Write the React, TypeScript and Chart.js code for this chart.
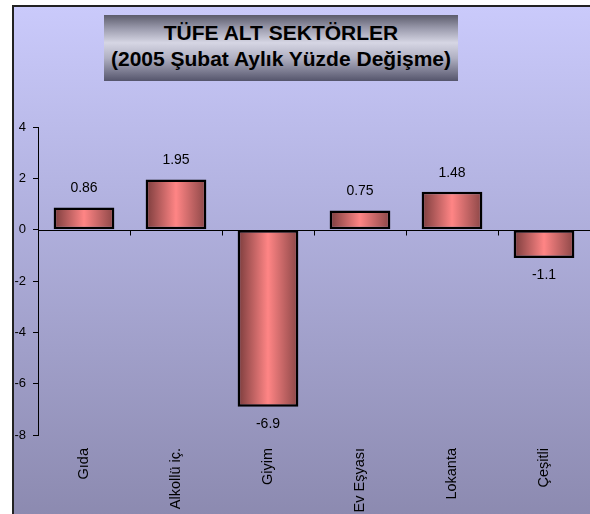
import React, { useEffect, useRef } from "react";
import { Chart, registerables } from "chart.js";

Chart.register(...registerables);

const categories = ["Gıda", "Alkollü iç.", "Giyim", "Ev Eşyası", "Lokanta", "Çeşitli"];
const values = [0.86, 1.95, -6.9, 0.75, 1.48, -1.1];
const valueLabels = ["0.86", "1.95", "-6.9", "0.75", "1.48", "-1.1"];
const yMin = -8;
const yMax = 4;
const yStep = 2;
const titleLines = ["TÜFE ALT SEKTÖRLER", "(2005 Şubat Aylık Yüzde Değişme)"];

const FONT = '"Liberation Sans", Arial, sans-serif';
const BAR_FRACTION = 0.66;

const zeroLinePlugin = {
  id: "zeroLine",
  beforeDatasetsDraw(chart: any) {
    const { ctx, chartArea, scales } = chart;
    const y0 = Math.round(scales.y.getPixelForValue(0)) + 0.5;
    ctx.save();
    ctx.strokeStyle = "#000";
    ctx.lineWidth = 1;
    ctx.beginPath();
    ctx.moveTo(chartArea.left, y0);
    ctx.lineTo(chartArea.right, y0);
    for (let i = 0; i < categories.length - 1; i++) {
      const bx = Math.round((scales.x.getPixelForValue(i) + scales.x.getPixelForValue(i + 1)) / 2) + 0.5;
      ctx.moveTo(bx, y0);
      ctx.lineTo(bx, y0 + 5);
    }
    ctx.stroke();
    ctx.restore();
  },
  afterDatasetsDraw(chart: any) {
    const { ctx } = chart;
    const meta = chart.getDatasetMeta(0);
    ctx.save();
    ctx.fillStyle = "#000";
    ctx.font = `14px ${FONT}`;
    ctx.textAlign = "center";
    ctx.textBaseline = "middle";
    meta.data.forEach((bar: any, i: number) => {
      const v = values[i];
      const ty = v >= 0 ? bar.y - 19 : bar.y + 17;
      ctx.fillText(valueLabels[i], bar.x, ty);
    });
    ctx.restore();
  },
};

export default function App() {
  const ref = useRef<HTMLCanvasElement>(null);

  useEffect(() => {
    if (!ref.current) return;
    const chart = new Chart(ref.current, {
      type: "bar",
      data: {
        labels: categories,
        datasets: [
          {
            data: values,
            backgroundColor: (c: any) => {
              const ch = c.chart;
              const xs = ch.scales && ch.scales.x;
              if (!xs || c.dataIndex === undefined || !xs.width) return "#ff8080";
              const cx = xs.getPixelForValue(c.dataIndex);
              const half = ((xs.width / categories.length) * BAR_FRACTION) / 2;
              const g = ch.ctx.createLinearGradient(cx - half, 0, cx + half, 0);
              g.addColorStop(0, "#7a3c3c");
              g.addColorStop(0.5, "#ff8585");
              g.addColorStop(1, "#8a4646");
              return g;
            },
            borderColor: "#000",
            borderWidth: 2.5,
            borderSkipped: false,
            barPercentage: BAR_FRACTION,
            categoryPercentage: 1,
          },
        ],
      },
      options: {
        responsive: false,
        animation: false,
        devicePixelRatio: 1,
        layout: { padding: { top: 127, left: 0, right: 0, bottom: 0 } },
        plugins: {
          legend: { display: false },
          tooltip: { enabled: false },
          title: { display: false },
        },
        scales: {
          x: {
            grid: { display: false, drawTicks: false },
            border: { display: false },
            ticks: {
              maxRotation: 90,
              minRotation: 90,
              padding: 13,
              color: "#000",
              font: { family: FONT, size: 14.5 },
              autoSkip: false,
            },
            afterFit(scale: any) {
              scale.height = 79;
            },
          },
          y: {
            min: yMin,
            max: yMax,
            ticks: {
              stepSize: yStep,
              padding: 7,
              color: "#000",
              font: { family: FONT, size: 13 },
            },
            grid: {
              display: true,
              drawOnChartArea: false,
              drawTicks: true,
              tickLength: 5,
              color: "#000",
            },
            border: { display: true, color: "#000", width: 1 },
            afterFit(scale: any) {
              scale.width = 38;
            },
          },
        },
      },
      plugins: [zeroLinePlugin],
    });
    return () => chart.destroy();
  }, []);

  return (
    <div style={{ position: "fixed", left: 0, top: 0, width: 590, height: 514, background: "#fff", overflow: "hidden" }}>
      <div
        style={{
          position: "absolute",
          left: 12,
          top: 5,
          width: 578,
          height: 509,
          borderLeft: "2px solid #222",
          borderTop: "2px solid #222",
          background: "linear-gradient(to bottom, #cacafb 0%, #b4b4e2 35%, #8c8ab0 100%)",
        }}
      />
      <canvas ref={ref} width={590} height={514} style={{ position: "absolute", left: 0, top: 0 }} />
      <div
        style={{
          position: "absolute",
          left: 104,
          top: 15,
          width: 354,
          height: 66,
          boxSizing: "border-box",
          paddingTop: 5,
          background: "linear-gradient(to bottom, #5c5c6c 0%, #9a9aac 20%, #d6d6e4 42%, #b0b0c2 65%, #55556c 100%)",
          fontFamily: FONT,
          fontWeight: "bold",
          fontSize: 21,
          lineHeight: "26px",
          textAlign: "center",
          color: "#000",
          whiteSpace: "nowrap",
        }}
      >
        {titleLines.map((t) => (
          <div key={t}>{t}</div>
        ))}
      </div>
    </div>
  );
}
